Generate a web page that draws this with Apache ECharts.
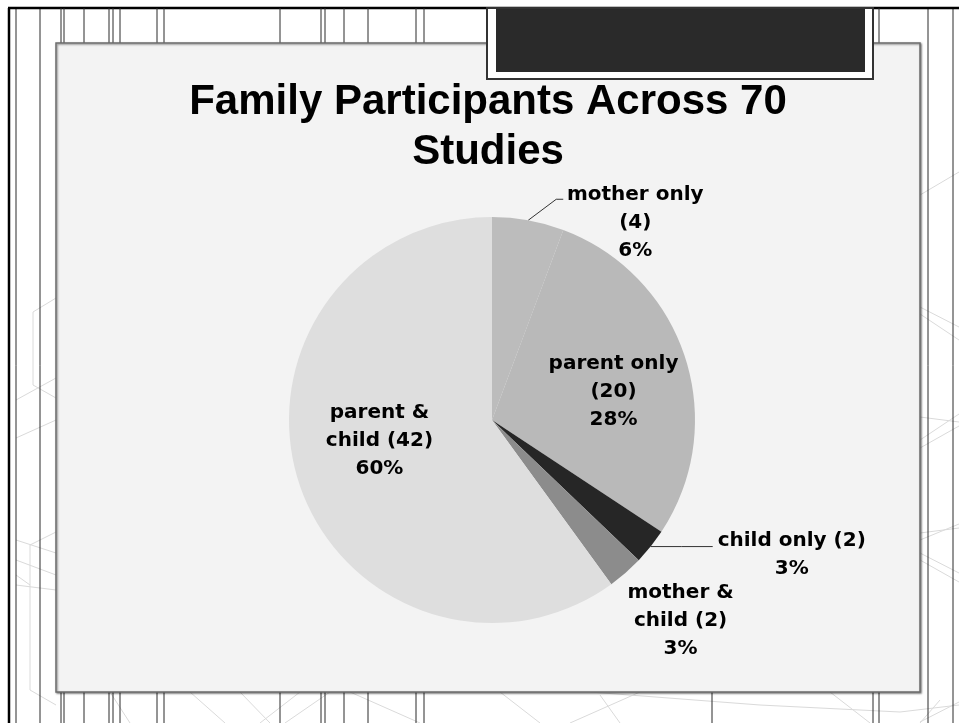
<!DOCTYPE html>
<html>
<head>
<meta charset="utf-8">
<script src="https://cdn.jsdelivr.net/npm/echarts@6/dist/echarts.min.js"></script>
<style>
html,body{margin:0;padding:0;background:#fff;}
#chart{width:959px;height:723px;}
</style>
</head>
<body>
<div id="chart"></div>
<script>
// ---- data ----
const categories = ['mother only', 'parent only', 'child only', 'mother & child', 'parent & child'];
const counts = [4, 20, 2, 2, 42];
const percents = [6, 28, 3, 3, 60];
const labelNames = ['mother only\n', 'parent only\n', 'child only ', 'mother &\nchild ', 'parent &\nchild '];
const titleText = 'Family Participants Across 70\nStudies';

// ---- layout / style ----
const sliceColors = ['#bcbcbc', '#b9b9b9', '#262626', '#8c8c8c', '#dedede'];
const CX = 492, CY = 420, R = 203;
const total = counts.reduce((a, b) => a + b, 0);
const cum = [];
counts.reduce((acc, v, i) => { cum[i] = acc; return acc + v; }, 0);
function anchor(i, rr) {
  const a = (cum[i] + counts[i] / 2) / total * Math.PI * 2;
  return [CX + rr * Math.sin(a), CY - rr * Math.cos(a)];
}
// label placement relative to the slice anchor
const labelCfg = [
  { outside: true, dx: 107, dy: -39, va: 'top', line: [[28, -21], [35, -21]] },
  { outside: false, dx: 25, dy: 3, va: 'middle' },
  { outside: true, dx: 141, dy: -20, va: 'top', line: [[31, 0], [62, 0]] },
  { outside: true, dx: 55, dy: 6, va: 'top', noLine: true },
  { outside: false, dx: -16, dy: -11, va: 'middle' }
];

// ---- background decoration ----
const g = [];
const dark = '#2b2b2b';
function vline(x, y1, y2, w, c) {
  g.push({ type: 'line', silent: true, shape: { x1: x, y1: y1, x2: x, y2: y2 }, style: { stroke: c || dark, lineWidth: w || 1 } });
}
function fline(x1, y1, x2, y2) {
  g.push({ type: 'line', silent: true, shape: { x1, y1, x2, y2 }, style: { stroke: '#dadada', lineWidth: 1 } });
}
// faint geometric lines
[[920,195,959,172],[920,307,959,327],[920,314,959,340],[920,417,959,422],[920,448,959,426],[920,440,959,414],
 [920,533,959,528],[920,540,959,524],[920,553,959,573],[920,560,959,582],[920,722,959,702],
 [16,400,56,378],[16,438,56,420],[33,312,56,298],[33,312,33,385],[33,385,56,398],[16,540,56,553],[16,560,56,575],
 [16,585,56,590],[30,545,56,532],[30,545,30,690],[30,690,56,705],[16,575,30,585],
 [110,692,130,723],[190,692,225,723],[240,692,270,723],[300,692,260,723],[330,692,285,723],[350,692,420,723],
 [500,692,540,723],[600,695,620,723],[640,692,570,723],[590,692,760,705],[760,705,900,712],[900,712,959,705],[830,692,870,723],[940,700,920,723]
].forEach(l => fline(l[0], l[1], l[2], l[3]));
// vertical slide lines
[16, 40, 928, 953].forEach(x => vline(x, 8, 723, 1));
vline(9, 8, 723, 2.5, '#000');
g.push({ type: 'line', silent: true, shape: { x1: 8, y1: 8, x2: 959, y2: 8 }, style: { stroke: '#000', lineWidth: 2.5 } });
[61, 64, 84, 109, 113, 120, 157, 164, 280, 321, 325, 344, 368, 416, 424, 879].forEach(x => vline(x, 8, 44, 1));
[61, 64, 84, 109, 113, 120, 157, 164, 280, 321, 325, 344, 368, 416, 424, 712, 873, 879].forEach(x => vline(x, 692, 723, 1));
// panel
g.push({ type: 'rect', silent: true, z: 1, shape: { x: 56, y: 43, width: 864, height: 649 },
  style: { fill: '#f3f3f3', stroke: '#6e6e6e', lineWidth: 1.5, shadowBlur: 2, shadowOffsetX: 1, shadowOffsetY: 1, shadowColor: 'rgba(0,0,0,0.45)' } });
// dark header box
g.push({ type: 'rect', silent: true, z: 2, shape: { x: 487, y: 8, width: 386, height: 71 },
  style: { fill: '#ffffff', stroke: '#333', lineWidth: 2 } });
g.push({ type: 'rect', silent: true, z: 3, shape: { x: 496, y: 9, width: 369, height: 63 },
  style: { fill: '#2a2a2a' } });

const chart = echarts.init(document.getElementById('chart'), null, { renderer: 'canvas' });
chart.setOption({
  backgroundColor: '#ffffff',
  animation: false,
  graphic: { elements: g.map(e => Object.assign({ z: e.z || 0, zlevel: 0 }, e)) },
  title: {
    text: titleText,
    left: 488,
    top: 77,
    textAlign: 'center',
    padding: 0,
    z: 10,
    textStyle: { fontFamily: 'Liberation Sans, Arial, sans-serif', fontWeight: 'bold', fontSize: 42, lineHeight: 50, color: '#000' }
  },
  series: [{
    type: 'pie',
    z: 5,
    center: [CX, CY],
    radius: [0, R],
    startAngle: 90,
    clockwise: true,
    avoidLabelOverlap: false,
    data: categories.map((c, i) => ({
      name: c,
      value: counts[i],
      itemStyle: { color: sliceColors[i] },
      label: { position: labelCfg[i].outside ? 'outside' : 'inside' },
      labelLine: { show: labelCfg[i].outside && !labelCfg[i].noLine }
    })),
    label: {
      show: true,
      formatter: p => labelNames[p.dataIndex] + '(' + counts[p.dataIndex] + ')\n' + percents[p.dataIndex] + '%',
      fontFamily: 'DejaVu Sans, sans-serif',
      fontWeight: 'bold',
      fontSize: 20,
      lineHeight: 28,
      color: '#000',
      align: 'center'
    },
    labelLine: { show: true, length: 20, length2: 10, lineStyle: { color: '#333', width: 1 } },
    labelLayout: function (params) {
      const i = params.dataIndex;
      const cfg = labelCfg[i];
      const a = anchor(i, cfg.outside ? R : R / 2);
      const out = { x: a[0] + cfg.dx, y: a[1] + cfg.dy, align: 'center', verticalAlign: cfg.va };
      if (cfg.line) {
        out.labelLinePoints = [a, [a[0] + cfg.line[0][0], a[1] + cfg.line[0][1]], [a[0] + cfg.line[1][0], a[1] + cfg.line[1][1]]];
      }
      return out;
    },
    emphasis: { disabled: true }
  }]
});
</script>
</body>
</html>
